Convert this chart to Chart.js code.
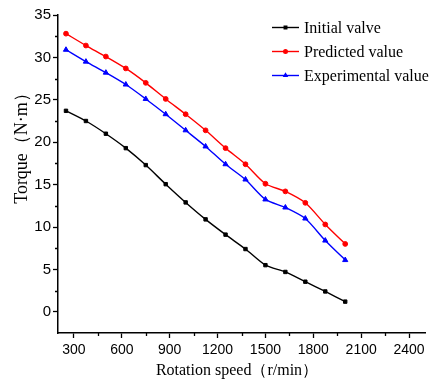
<!DOCTYPE html>
<html>
<head>
<meta charset="utf-8">
<script src="https://cdn.jsdelivr.net/npm/chart.js@4"></script>
<style>
  html, body { margin: 0; padding: 0; background: #fff; }
</style>
</head>
<body>
<canvas id="torqueChart" width="444" height="379"></canvas>
<script>
// rotation speed (r/min) and torque (N·m) for each case
const speeds = [250, 375, 500, 625, 750, 875, 1000, 1125, 1250, 1375, 1500, 1625, 1750, 1875, 2000];
const initialValve = [23.7, 22.5, 21.0, 19.3, 17.3, 15.05, 12.9, 10.9, 9.1, 7.4, 5.5, 4.7, 3.55, 2.4, 1.2];
const predicted = [32.8, 31.4, 30.1, 28.7, 27.0, 25.1, 23.3, 21.4, 19.3, 17.4, 15.1, 14.2, 12.85, 10.3, 8.0];
const experimental = [30.9, 29.5, 28.2, 26.8, 25.1, 23.3, 21.4, 19.5, 17.4, 15.6, 13.25, 12.3, 11.0, 8.4, 6.1];

const xTicks = [300, 600, 900, 1200, 1500, 1800, 2100, 2400];
const yTicks = [0, 5, 10, 15, 20, 25, 30, 35];
const xMinor = [450, 750, 1050, 1350, 1650, 1950, 2250];
const yMinor = [2.5, 7.5, 12.5, 17.5, 22.5, 27.5, 32.5];

const seriesNames = ['Initial valve', 'Predicted value', 'Experimental value'];

function toPoints(ys) {
  return speeds.map((s, i) => ({ x: s, y: ys[i] }));
}

function makeSet(label, ys, color, style, radius) {
  return {
    label: label,
    data: toPoints(ys),
    borderColor: color,
    backgroundColor: color,
    borderWidth: 1.4,
    pointStyle: style,
    pointRadius: radius,
    pointBorderWidth: 1,
    tension: 0.25
  };
}

// short minor ticks between the labelled ones
const minorTicks = {
  id: 'minorTicks',
  afterDraw(chart) {
    const ctx = chart.ctx;
    const xs = chart.scales.x, ys = chart.scales.y;
    const area = chart.chartArea;
    ctx.save();
    ctx.strokeStyle = '#000';
    ctx.lineWidth = 1.3;
    ctx.beginPath();
    xMinor.forEach(v => {
      const px = Math.round(xs.getPixelForValue(v)) + 0.5;
      ctx.moveTo(px, area.bottom);
      ctx.lineTo(px, area.bottom + 3);
    });
    yMinor.forEach(v => {
      const py = Math.round(ys.getPixelForValue(v)) + 0.5;
      ctx.moveTo(area.left, py);
      ctx.lineTo(area.left - 3, py);
    });
    ctx.stroke();
    ctx.restore();
  }
};

// axis titles and the legend box in the upper right
const labels = {
  id: 'labels',
  afterDraw(chart) {
    const ctx = chart.ctx;
    ctx.save();
    ctx.fillStyle = '#000';

    ctx.font = '16px "Liberation Serif", "Times New Roman", serif';
    ctx.textAlign = 'center';
    ctx.textBaseline = 'alphabetic';
    ctx.fillText('Rotation speed（r/min）', 237, 375);

    ctx.save();
    ctx.translate(27, 144);
    ctx.rotate(-Math.PI / 2);
    ctx.font = '18px "Liberation Serif", "Times New Roman", serif';
    ctx.fillText('Torque（N·m）', 0, 0);
    ctx.restore();

    const rows = [27.5, 51.5, 75.5];
    chart.data.datasets.forEach((ds, i) => {
      const y = rows[i];
      ctx.strokeStyle = ds.borderColor;
      ctx.lineWidth = 1.4;
      ctx.beginPath();
      ctx.moveTo(272, y);
      ctx.lineTo(299, y);
      ctx.stroke();
      ctx.fillStyle = ds.borderColor;
      Chart.helpers.drawPoint(ctx, {
        pointStyle: ds.pointStyle, radius: 1.8, borderWidth: 1, rotation: 0
      }, 285.5, y);
      ctx.fillStyle = '#000';
      ctx.font = '16px "Liberation Serif", "Times New Roman", serif';
      ctx.textAlign = 'left';
      ctx.textBaseline = 'middle';
      ctx.fillText(seriesNames[i], 304, y + 1);
    });
    ctx.restore();
  }
};

new Chart(document.getElementById('torqueChart'), {
  type: 'line',
  data: {
    datasets: [
      makeSet(seriesNames[0], initialValve, '#000000', 'rect', 2.4),
      makeSet(seriesNames[1], predicted, '#ff0000', 'circle', 2.4),
      makeSet(seriesNames[2], experimental, '#0000ff', 'triangle', 3)
    ]
  },
  options: {
    responsive: false,
    animation: false,
    layout: { padding: { left: 0, right: 19, top: 15, bottom: 0 } },
    plugins: {
      legend: { display: false },
      tooltip: { enabled: false }
    },
    scales: {
      x: {
        type: 'linear',
        min: 200,
        max: 2500,
        afterBuildTicks: s => { s.ticks = xTicks.map(v => ({ value: v })); },
        afterFit: s => { s.height = 46; },
        grid: { drawOnChartArea: false, tickLength: 5, tickColor: '#000', tickWidth: 1.3 },
        border: { color: '#000', width: 1.5 },
        ticks: {
          color: '#000',
          padding: 4,
          maxRotation: 0,
          callback: v => String(v),
          font: { family: '"Liberation Sans", Arial, sans-serif', size: 14 }
        }
      },
      y: {
        min: -2.5,
        max: 35,
        afterBuildTicks: s => { s.ticks = yTicks.map(v => ({ value: v })); },
        afterFit: s => { s.width = 58; },
        grid: { drawOnChartArea: false, tickLength: 5, tickColor: '#000', tickWidth: 1.3 },
        border: { color: '#000', width: 1.5 },
        ticks: {
          color: '#000',
          padding: 2,
          callback: v => String(v),
          font: { family: '"Liberation Sans", Arial, sans-serif', size: 15 }
        }
      }
    }
  },
  plugins: [minorTicks, labels]
});
</script>
</body>
</html>
